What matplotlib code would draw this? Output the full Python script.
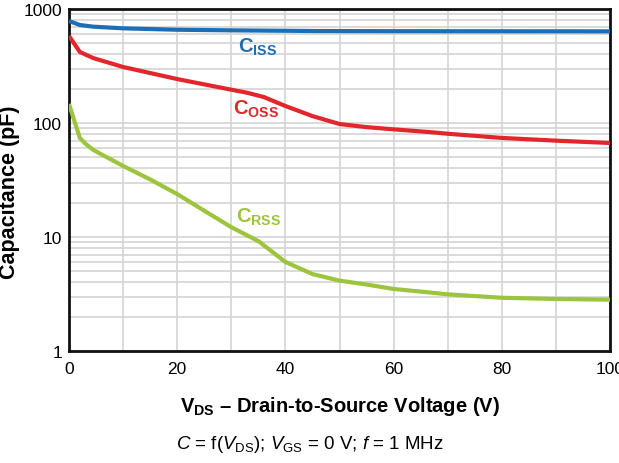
import matplotlib
matplotlib.use("Agg")
import matplotlib.pyplot as plt
from matplotlib.ticker import LogLocator, NullFormatter

plt.rcParams['font.family'] = ['Liberation Sans', 'DejaVu Sans']
plt.rcParams['mathtext.fontset'] = 'custom'
plt.rcParams['mathtext.rm'] = 'Liberation Sans'
plt.rcParams['mathtext.it'] = 'Liberation Sans:italic'
plt.rcParams['mathtext.bf'] = 'Liberation Sans:bold'

# Data
vds_iss = [0, 2, 4.5, 10, 20, 30, 46, 60, 80, 100]
ciss = [785, 724, 700, 677, 658, 650, 641, 639, 638, 637]

vds_oss = [0, 2, 4.5, 10, 20, 30, 33, 36, 40, 45, 50, 55, 60, 67, 70, 80, 90, 100]
coss = [580, 420, 371, 310, 243, 196, 184, 169, 141, 115, 98, 92, 88, 83, 80.5, 74, 70, 66.8]

vds_rss = [0, 1, 2, 3, 4.5, 10, 15, 20, 25, 30, 35, 40, 45, 50, 55, 60, 67, 70, 80, 90, 100]
crss = [147, 104, 74, 66, 58, 42, 32, 23.8, 17.0, 12.2, 9.2, 6.04, 4.73, 4.14, 3.83, 3.5, 3.25, 3.14, 2.93, 2.86, 2.82]

x_ticks = [0, 20, 40, 60, 80, 100]
y_ticks = [1, 10, 100, 1000]
y_tick_labels = ["1", "10", "100", "1000"]

c_blue = "#1d6fb5"
c_red = "#e2262c"
c_green = "#9dc43d"

fig = plt.figure(figsize=(6.19, 4.64), dpi=100)
ax = fig.add_axes([0.1115, 0.2414, 0.874, 0.737])

ax.set_yscale('log')
ax.set_xlim(0, 100)
ax.set_ylim(1, 1000)

ax.plot(vds_iss, ciss, color=c_blue, lw=3.0, solid_capstyle='butt', solid_joinstyle='round', zorder=3)
ax.plot(vds_oss, coss, color=c_red, lw=3.0, solid_capstyle='butt', solid_joinstyle='round', zorder=3)
ax.plot(vds_rss, crss, color=c_green, lw=3.0, solid_capstyle='butt', solid_joinstyle='round', zorder=3)

ax.set_xticks(x_ticks)
ax.set_xticks(list(range(0, 101, 10)), minor=True)
ax.set_yticks(y_ticks)
ax.set_yticklabels(y_tick_labels)
ax.yaxis.set_minor_locator(LogLocator(base=10, subs=range(2, 10)))
ax.yaxis.set_minor_formatter(NullFormatter())
ax.grid(True, which='both', color='#d4d4d4', lw=1.2, zorder=0)
ax.tick_params(which='both', length=0, labelsize=12.5)
ax.tick_params(axis='x', pad=7)
ax.tick_params(axis='y', pad=5)

for s in ax.spines.values():
    s.set_linewidth(2.0)
    s.set_color('#111111')

ax.text(31.2, 420, r"$\mathbf{C_{ISS}}$", color=c_blue, fontsize=14.5, ha='left', va='baseline')
ax.text(30.3, 120, r"$\mathbf{C_{OSS}}$", color=c_red, fontsize=14.5, ha='left', va='baseline')
ax.text(30.9, 13.6, r"$\mathbf{C_{RSS}}$", color=c_green, fontsize=14.5, ha='left', va='baseline')

ax.set_ylabel("Capacitance (pF)", fontsize=15.5, fontweight='bold')
ax.yaxis.set_label_coords(-0.09, 0.468)
ax.set_xlabel(r"$\mathbf{V_{DS}}$ – Drain-to-Source Voltage (V)", fontsize=14.5,
              fontweight='bold')
ax.xaxis.set_label_coords(0.5, -0.126)

fig.text(0.5, 0.041, r"$\mathit{C}$ = f($\mathit{V}_{\mathrm{DS}}$); $\mathit{V}_{\mathrm{GS}}$ = 0 V; $\mathit{f}$ = 1 MHz",
         ha='center', va='center', fontsize=13.5)

fig.savefig("out.png", dpi=100)
